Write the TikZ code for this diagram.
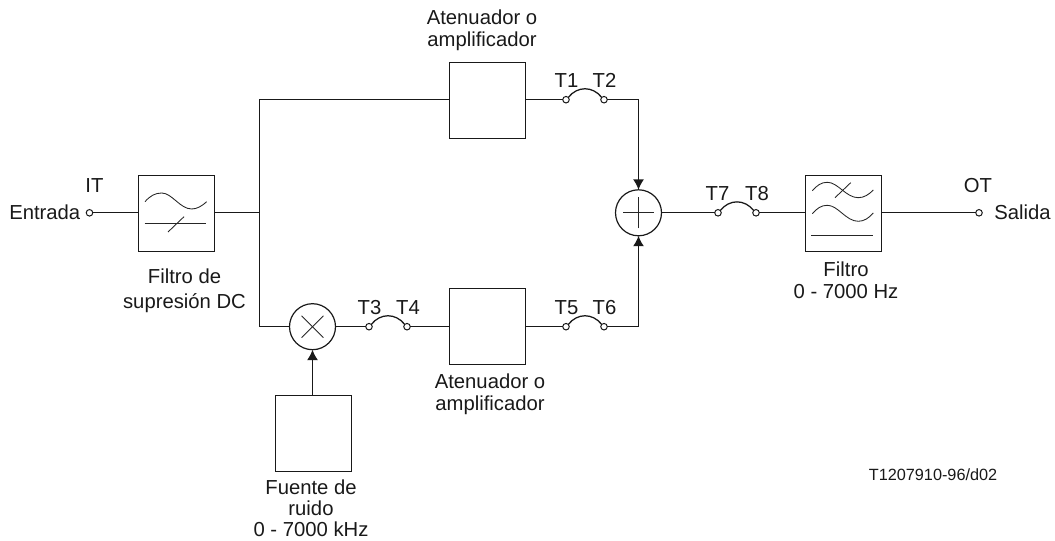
\documentclass[tikz,border=0pt]{standalone}
\usepackage{fontspec}
\setmainfont{Liberation Sans}
\usetikzlibrary{arrows.meta}
\tikzset{
  x=0.75pt,y=-0.75pt,
  wire/.style={line width=0.95pt,black!90},
  thin glyph/.style={line width=0.65pt,black!85},
  blockbox/.style={draw,line width=0.85pt,black!90,minimum size=57pt,inner sep=0,outer sep=0},
  roundop/.style={draw,circle,line width=0.9pt,black!90,minimum size=34.5pt,inner sep=0,outer sep=0},
  term/.style={draw,circle,line width=0.75pt,black!90,fill=white,minimum size=4.9pt,inner sep=0,outer sep=0},
  lbl/.style={font=\fontsize{15.2}{16.5}\selectfont,align=center,text=black!90,inner sep=0,anchor=base},
  arrowwire/.style={wire,-{Latex[length=7.8pt,width=8.2pt]}},
}
\begin{document}
\begin{tikzpicture}
\useasboundingbox (0,0) rectangle (1055,541);
% blocks
\node[blockbox] (hp) at (176.5,213.5) {};
\node[blockbox] (att1) at (487.5,100.5) {};
\node[blockbox] (att2) at (487.5,326.5) {};
\node[blockbox] (noise) at (313.5,433.5) {};
\node[blockbox] (lp) at (843.5,213.5) {};
\node[roundop] (mul) at (312.5,326.7) {};
\node[roundop] (sum) at (638.5,212.8) {};
% terminals
\node[term] (in) at (89.5,212.8) {};
\node[term] (out) at (979,212.8) {};
\node[term] (t1) at (566,99.7) {};
\node[term] (t2) at (604,99.7) {};
\node[term] (t3) at (369,326.7) {};
\node[term] (t4) at (407,326.7) {};
\node[term] (t5) at (566,326.7) {};
\node[term] (t6) at (604,326.7) {};
\node[term] (t7) at (718,212.8) {};
\node[term] (t8) at (756,212.8) {};
\coordinate (j) at (259.5,212.8);
% connectors
\draw[wire] (in) -- (hp.west |- in);
\draw[wire] (hp.east |- in) -- (j);
\draw[wire] (j) |- (att1.west |- t1);
\draw[wire] (j) |- (mul.west);
\draw[wire] (att1.east |- t1) -- (t1);
\draw[wire] (mul) -- (t3);
\draw[wire] (t4) -- (att2.west |- t4);
\draw[wire] (att2.east |- t5) -- (t5);
\draw[arrowwire] (t2) -| (sum.north);
\draw[arrowwire] (t6) -| (sum.south);
\draw[arrowwire] (noise.north -| mul) -- (mul.south);
\draw[wire] (sum) -- (t7);
\draw[wire] (t8) -- (lp.west |- t8);
\draw[wire] (lp.east |- out) -- (out);
\foreach \a/\b in {t1/t2,t3/t4,t5/t6,t7/t8}{
  \draw[wire] (\a.north east) .. controls +(9,-11.5) and +(-9,-11.5) .. (\b.north west);
}
% operator glyphs
\draw[thin glyph] ([xshift=-11.6pt]sum.center) -- ([xshift=11.6pt]sum.center);
\draw[thin glyph] ([yshift=-11.6pt]sum.center) -- ([yshift=11.6pt]sum.center);
\draw[thin glyph] ([shift={(-8.2pt,-8.2pt)}]mul.center) -- ([shift={(8.2pt,8.2pt)}]mul.center);
\draw[thin glyph] ([shift={(-8.2pt,8.2pt)}]mul.center) -- ([shift={(8.2pt,-8.2pt)}]mul.center);
% high-pass glyph
\draw[thin glyph] (145,201.7) .. controls (150,196) and (155,193) .. (161.7,193)
   .. controls (172,193) and (180,209) .. (191.7,209) .. controls (197,209) and (202,206) .. (206.7,201.7);
\draw[thin glyph] (144.5,223.3) -- (205.5,223.3);
\draw[thin glyph] (168,232) -- (184,216.7);
% low-pass glyph
\draw[thin glyph] (812.3,190.7) .. controls (817,185.5) and (821,182.3) .. (827.3,182.3)
   .. controls (838,182.3) and (846,197.7) .. (858.3,197.7) .. controls (864,197.7) and (869,194.5) .. (873.3,190);
\draw[thin glyph] (812.3,213.6) .. controls (817,208.5) and (821,205.3) .. (827.3,205.3)
   .. controls (838,205.3) and (846,221.3) .. (858.3,221.3) .. controls (864,221.3) and (869,218) .. (873.3,213);
\draw[thin glyph] (835,197.7) -- (850.7,182.7);
\draw[thin glyph] (811,235.7) -- (873,235.7);
% labels
\node[lbl] (lit) at (94.5,192.7) {IT};
\node[lbl,anchor=base east] (lent) at (80.5,219.5) {Entrada};
\node[lbl] (lhp) at (184.5,308) {Filtro de\\[1.5pt]supresión DC};
\node[lbl] (lat1) at (482,47) {Atenuador o\\amplificador};
\node[lbl] (lat2) at (490,410.7) {Atenuador o\\amplificador};
\node[lbl,font=\fontsize{15.2}{15.75}\selectfont] (lno) at (311,536) {Fuente de\\ruido\\0 - 7000 kHz};
\node[lbl] (lf) at (846,298) {Filtro\\0 - 7000 Hz};
\node[lbl] (lot) at (978,193) {OT};
\node[lbl,anchor=base west] (lsal) at (994,220) {Salida};
\node[lbl] (l1) at (566.5,87.7) {T1};
\node[lbl] (l2) at (604.5,87.7) {T2};
\node[lbl] (l3) at (369.5,314.3) {T3};
\node[lbl] (l4) at (408,314.3) {T4};
\node[lbl] (l5) at (566.5,314.3) {T5};
\node[lbl] (l6) at (604.5,314.3) {T6};
\node[lbl] (l7) at (717.5,201) {T7};
\node[lbl] (l8) at (757,201) {T8};
\node[lbl,font=\fontsize{12.2}{13}\selectfont,anchor=base east] (lref) at (997.5,480.7) {T1207910-96/d02};
\end{tikzpicture}
\end{document}
